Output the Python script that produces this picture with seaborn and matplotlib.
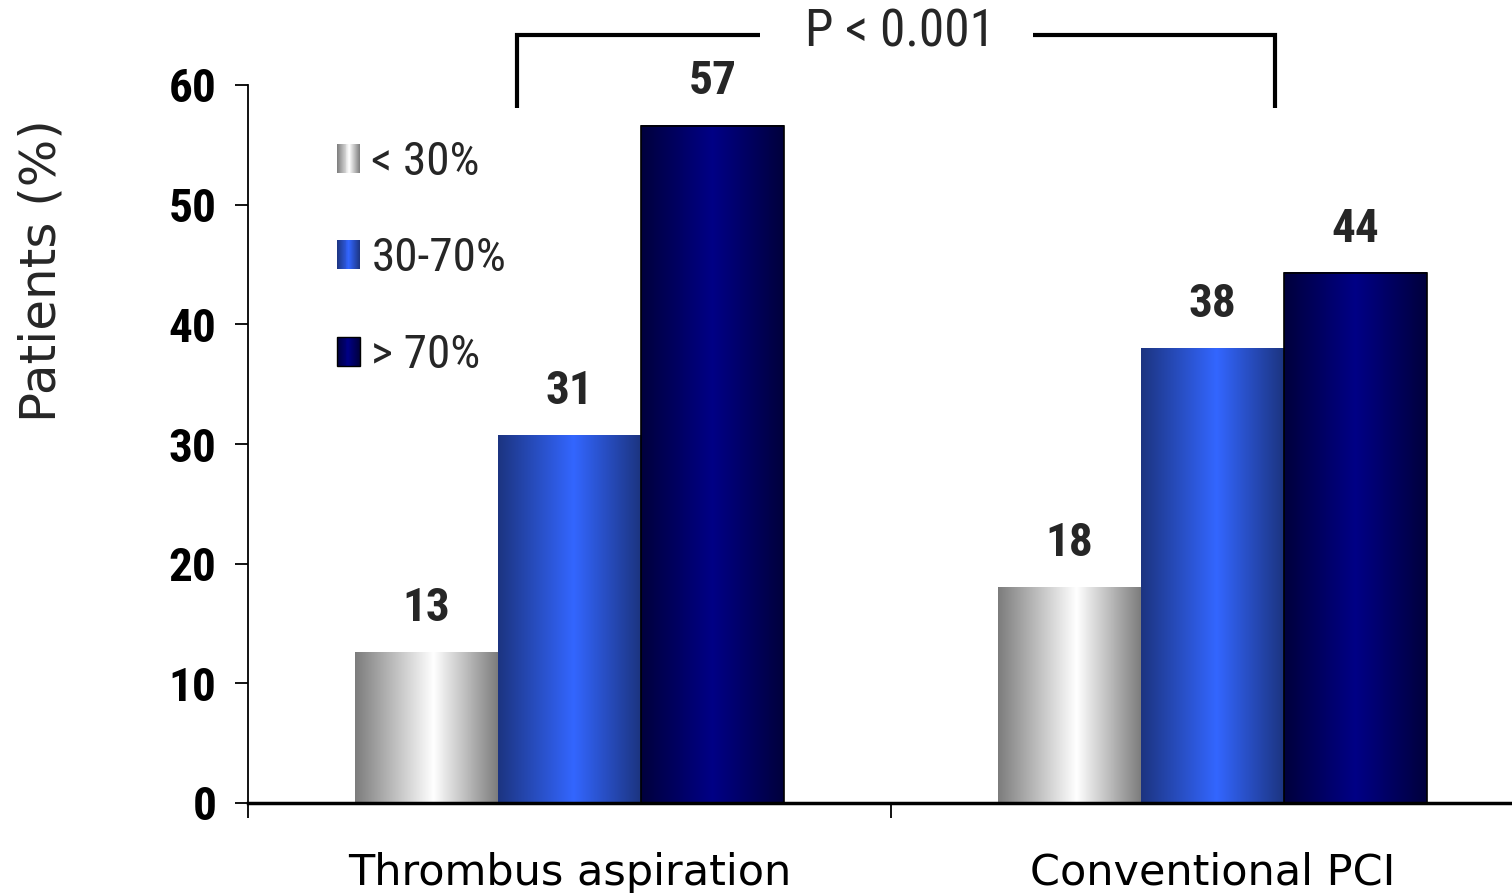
import numpy as np
import pandas as pd
import matplotlib
matplotlib.use("Agg")
import matplotlib.pyplot as plt
import seaborn as sns
from matplotlib import font_manager as fm
from matplotlib.patches import Rectangle
from matplotlib.legend_handler import HandlerBase

# ---------------- data ----------------
groups = ["Thrombus aspiration", "Conventional PCI"]
levels = ["< 30%", "30-70%", "> 70%"]
aspiration = [12.6, 30.7, 56.6]
conventional = [18.0, 38.0, 44.3]
yticks = [0, 10, 20, 30, 40, 50, 60]
p_text = "P < 0.001"
ylabel = "Patients (%)"

df = pd.DataFrame({
    "group": np.repeat(groups, len(levels)),
    "level": levels * len(groups),
    "value": aspiration + conventional,
})

# gradient styles: (edge colour, peak colour, peak position)
grad_spec = {
    "< 30%": ("#7c7c7c", "#ffffff", 0.55),
    "30-70%": ("#1c3480", "#3366ff", 0.53),
    "> 70%": ("#00003c", "#000086", 0.50),
}
mid_colors = {k: v[1] for k, v in grad_spec.items()}


def grad_color(spec, t):
    e = np.array(matplotlib.colors.to_rgb(spec[0]))
    p = np.array(matplotlib.colors.to_rgb(spec[1]))
    pos = spec[2]
    f = 1 - (pos - t) / pos if t < pos else 1 - (t - pos) / (1 - pos)
    return e + (p - e) * f


def grad_row(spec, n=256):
    return np.array([[grad_color(spec, (i + 0.5) / n) for i in range(n)]])


sns.set_theme(style="white")
names = {f.name for f in fm.fontManager.ttflist}
narrow = "Liberation Sans"
for cand in ["Liberation Sans Narrow", "Arial Narrow", "Roboto Condensed"]:
    if cand in names:
        narrow = cand
        break
plt.rcParams["font.family"] = ["DejaVu Sans"]

W, H = 1512, 893
fig = plt.figure(figsize=(W / 100, H / 100), dpi=100)
ax = fig.add_axes([248 / W, 1 - 803 / H, 1 - 248 / W, (803 - 85) / H])

sns.barplot(data=df, x="group", y="value", hue="level", order=groups,
            hue_order=levels, palette=mid_colors, width=0.667, gap=0,
            saturation=1, errorbar=None, legend=False, ax=ax)

for lvl, cont in zip(levels, ax.containers):
    spec = grad_spec[lvl]
    for bar in cont:
        x0, w, h = bar.get_x(), bar.get_width(), bar.get_height()
        bar.set_edgecolor("none")
        ax.imshow(grad_row(spec), extent=[x0, x0 + w, 0, h], aspect="auto",
                  interpolation="bilinear", zorder=bar.get_zorder() + 0.1)
        if lvl == "> 70%":
            ax.add_patch(Rectangle((x0, 0), w, h, fill=False, edgecolor="#000000",
                                   linewidth=1.2, zorder=bar.get_zorder() + 0.2))
        ax.annotate(f"{int(round(h))}", (x0 + w / 2, h), xytext=(0, 16),
                    textcoords="offset points", ha="center", va="bottom",
                    fontfamily=narrow, fontweight="bold", fontsize=34)

ax.set_xlim(-0.5, 1.5 - 22 / 643)
ax.set_ylim(0, 60)
ax.set_yticks(yticks)
ax.set_yticklabels([str(t) for t in yticks], fontfamily=narrow, fontweight="bold", fontsize=34)
ax.set_xticks([0, 1])
ax.set_xticklabels(groups, fontsize=31)
ax.set_xticks([-0.5, 0.5], minor=True)
ax.tick_params(axis="x", which="major", length=0, pad=35, colors="black")
ax.tick_params(axis="x", which="minor", length=11, width=1.3, direction="out", bottom=True, colors="black")
ax.tick_params(axis="y", length=9.5, width=1.3, direction="out", left=True, pad=13, colors="black")
ax.set_xlabel("")
ax.set_ylabel("")
for s in ["top", "right"]:
    ax.spines[s].set_visible(False)
ax.spines["left"].set_linewidth(1.3)
ax.spines["left"].set_color("black")
ax.spines["bottom"].set_linewidth(2.5)
ax.spines["bottom"].set_color("black")
ax.set_facecolor("white")

fig.text(42 / W, 1 - 271 / H, ylabel, rotation=90, ha="center", va="center", fontsize=36)

# significance bracket
xl, xr = -0.082, 1.097
xg1, xg2 = 0.296, 0.721
ytop, ylow = 64.2, 58.1
ax.plot([xl, xl, xg1], [ylow, ytop, ytop], color="black", lw=3, clip_on=False,
        solid_capstyle="butt", solid_joinstyle="miter")
ax.plot([xg2, xr, xr], [ytop, ytop, ylow], color="black", lw=3, clip_on=False,
        solid_capstyle="butt", solid_joinstyle="miter")
ax.text((xg1 + xg2) / 2 + 0.005, ytop + 0.2, p_text, ha="center", va="center",
        fontfamily=narrow, fontsize=37)


class GradHandler(HandlerBase):
    def __init__(self, spec, outline):
        super().__init__()
        self.spec = spec
        self.outline = outline

    def create_artists(self, legend, orig_handle, xdescent, ydescent, width,
                       height, fontsize, trans):
        n = 24
        arts = []
        for i in range(n):
            c = grad_color(self.spec, (i + 0.5) / n)
            arts.append(Rectangle((-xdescent + i * width / n, -ydescent),
                                  width / n * 1.08, height, facecolor=c,
                                  edgecolor="none", transform=trans))
        if self.outline:
            arts.append(Rectangle((-xdescent, -ydescent), width, height, fill=False,
                                  edgecolor="black", lw=1, transform=trans))
        return arts


handles = [Rectangle((0, 0), 1, 1, label=l) for l in levels]
hmap = {h: GradHandler(grad_spec[l], l == "> 70%") for h, l in zip(handles, levels)}
leg = ax.legend(handles=handles, labels=levels, handler_map=hmap,
                loc="upper left", bbox_to_anchor=(337 / W, 1 - 140 / H),
                bbox_transform=fig.transFigure, frameon=False,
                prop={"family": narrow, "size": 34}, handlelength=0.48,
                handleheight=0.56, handletextpad=0.25, labelspacing=1.11,
                borderpad=0, borderaxespad=0)

fig.savefig("out.png", dpi=100, facecolor="white")
